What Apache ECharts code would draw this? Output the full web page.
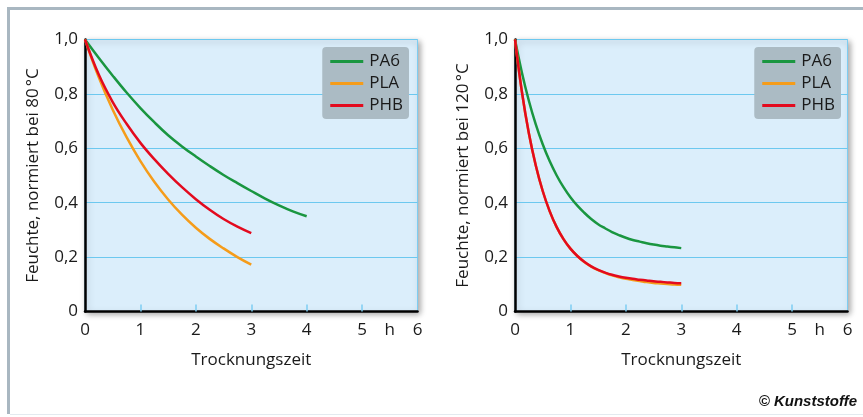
<!DOCTYPE html>
<html><head><meta charset="utf-8">
<script src="https://cdn.jsdelivr.net/npm/echarts@6/dist/echarts.min.js"></script>
<style>html,body{margin:0;padding:0;background:#fff}#c{width:863px;height:417px}</style>
</head><body><div id="c"></div>
<script>
// ---- data ----
const seriesNames = ['PA6', 'PLA', 'PHB'];
const xTickLabels = ['0', '1', '2', '3', '4', '5', 'h', '6'];
const xTickValues = [0, 1, 2, 3, 4, 5, 5.5, 6];
const yTickLabels = ['0', '0,2', '0,4', '0,6', '0,8', '1,0'];
// 80 °C (time in h)
const t80_PA6 = [0, 0.25, 0.5, 0.75, 1, 1.25, 1.5, 1.75, 2, 2.25, 2.5, 2.75, 3, 3.25, 3.5, 3.75, 4];
const v80_PA6 = [1.0, 0.932, 0.867, 0.805, 0.748, 0.696, 0.648, 0.607, 0.57, 0.535, 0.502, 0.472, 0.443, 0.415, 0.39, 0.368, 0.35];
const t80_PLA = [0, 0.25, 0.5, 0.75, 1, 1.25, 1.5, 1.75, 2, 2.25, 2.5, 2.75, 3];
const v80_PLA = [1.0, 0.86, 0.742, 0.641, 0.553, 0.477, 0.412, 0.356, 0.308, 0.267, 0.232, 0.2, 0.172];
const t80_PHB = [0, 0.25, 0.5, 0.75, 1, 1.25, 1.5, 1.75, 2, 2.25, 2.5, 2.75, 3];
const v80_PHB = [1.0, 0.87, 0.77, 0.69, 0.62, 0.56, 0.506, 0.457, 0.413, 0.374, 0.34, 0.312, 0.288];
// 120 °C (time in h)
const t120 = [0, 0.125, 0.25, 0.375, 0.5, 0.625, 0.75, 0.875, 1, 1.125, 1.25, 1.375, 1.5, 1.625, 1.75, 1.875, 2, 2.125, 2.25, 2.375, 2.5, 2.625, 2.75, 2.875, 3];
const v120_PA6 = [1.0, 0.878, 0.775, 0.688, 0.615, 0.553, 0.501, 0.457, 0.42, 0.389, 0.363, 0.34, 0.321, 0.306, 0.292, 0.281, 0.271, 0.263, 0.257, 0.251, 0.246, 0.242, 0.239, 0.236, 0.233];
const v120_PLA = [1.0, 0.807, 0.655, 0.537, 0.443, 0.369, 0.311, 0.266, 0.231, 0.204, 0.182, 0.165, 0.152, 0.142, 0.133, 0.126, 0.12, 0.116, 0.112, 0.108, 0.105, 0.103, 0.101, 0.099, 0.098];
const v120_PHB = [1.0, 0.807, 0.655, 0.537, 0.443, 0.369, 0.311, 0.266, 0.231, 0.204, 0.183, 0.166, 0.153, 0.143, 0.135, 0.129, 0.124, 0.12, 0.117, 0.114, 0.111, 0.109, 0.107, 0.105, 0.104];
const yNames = ['Feuchte, normiert bei 80\u202f°C', 'Feuchte, normiert bei 120\u202f°C'];
const xName = 'Trocknungszeit';
const copyright = '© Kunststoffe';

// ---- styles ----
const colors = {PA6: '#1a9640', PLA: '#f59c1a', PHB: '#e30a1e'};
const FONT = 'Open Sans';
const FS = 17;
const textColor = '#1a1a1a';

const pair = (t, v) => t.map((x, i) => [x, v[i]]);

const chart = echarts.init(document.getElementById('c'), null, {renderer: 'canvas'});

const gridBase = {
  top: 39.5, bottom: 105.5, show: true, backgroundColor: '#dbeefb',
  borderColor: '#7dcdf2', borderWidth: 1,
  shadowBlur: 6, shadowColor: 'rgba(0,0,0,0.35)', shadowOffsetX: 2, shadowOffsetY: 2
};

function xAxis(gi) {
  return {
    type: 'value', gridIndex: gi, min: 0, max: 6, interval: 1,
    name: xName, nameLocation: 'middle', nameGap: 40,
    nameTextStyle: {fontFamily: FONT, fontSize: FS, color: textColor},
    axisLine: {show: true, lineStyle: {color: '#000', width: 2.5}},
    axisTick: {show: true, inside: true, length: 7, customValues: [1, 2, 3, 4, 5], lineStyle: {color: '#7dcdf2', width: 1.5}},
    axisLabel: {
      customValues: xTickValues, margin: 10,
      fontFamily: FONT, fontSize: FS, color: textColor,
      formatter: v => xTickLabels[xTickValues.indexOf(v)]
    },
    splitLine: {show: false}
  };
}
function yAxis(gi) {
  return {
    type: 'value', gridIndex: gi, min: 0, max: 1, interval: 0.2,
    name: yNames[gi], nameLocation: 'middle', nameGap: 43, nameRotate: 90,
    nameTextStyle: {fontFamily: FONT, fontSize: FS, color: textColor},
    axisLine: {show: true, lineStyle: {color: '#000', width: 2.5}},
    axisTick: {show: false},
    axisLabel: {
      margin: 7, fontFamily: FONT, fontSize: FS, color: textColor,
      formatter: v => yTickLabels[Math.round(v / 0.2)]
    },
    splitLine: {show: true, lineStyle: {color: '#6cc8ef', width: 1.2}}
  };
}
function legend(right) {
  return {
    data: seriesNames, orient: 'vertical', right: right, top: 47,
    backgroundColor: '#abbbc4', borderRadius: 4,
    padding: [6, 6, 5, 8], itemGap: 5,
    itemWidth: 33, itemHeight: 3, icon: 'rect',
    textStyle: {fontFamily: FONT, fontSize: FS, color: textColor, padding: [0, 0, 0, 1]}
  };
}
function line(name, gi, t, v) {
  return {
    name: name, type: 'line', xAxisIndex: gi, yAxisIndex: gi,
    data: pair(t, v), smooth: 0.4, showSymbol: false,
    lineStyle: {color: colors[name], width: 2.5}, itemStyle: {color: colors[name]},
    z: name === 'PHB' ? 4 : 3
  };
}

chart.setOption({
  animation: false,
  color: seriesNames.map(n => colors[n]),
  grid: [
    Object.assign({left: 85, right: 445.5}, gridBase),
    Object.assign({left: 515, right: 15.5}, gridBase)
  ],
  xAxis: [xAxis(0), xAxis(1)],
  yAxis: [yAxis(0), yAxis(1)],
  legend: [legend(454), legend(22)],
  series: [
    line('PA6', 0, t80_PA6, v80_PA6),
    line('PLA', 0, t80_PLA, v80_PLA),
    line('PHB', 0, t80_PHB, v80_PHB),
    line('PA6', 1, t120, v120_PA6),
    line('PLA', 1, t120, v120_PLA),
    line('PHB', 1, t120, v120_PHB)
  ],
  graphic: [
    {type: 'rect', shape: {x: 7, y: 7, width: 856, height: 3}, style: {fill: '#a9b7c1'}, silent: true},
    {type: 'rect', shape: {x: 7, y: 7, width: 3, height: 407}, style: {fill: '#a9b7c1'}, silent: true},
    {type: 'rect', shape: {x: 10, y: 414, width: 853, height: 1}, style: {fill: '#e3eaef'}, silent: true},
    {type: 'text', right: 6, top: 394, style: {text: copyright, font: 'italic bold 15px "Liberation Sans"', fill: '#111'}}
  ]
});
</script></body></html>
